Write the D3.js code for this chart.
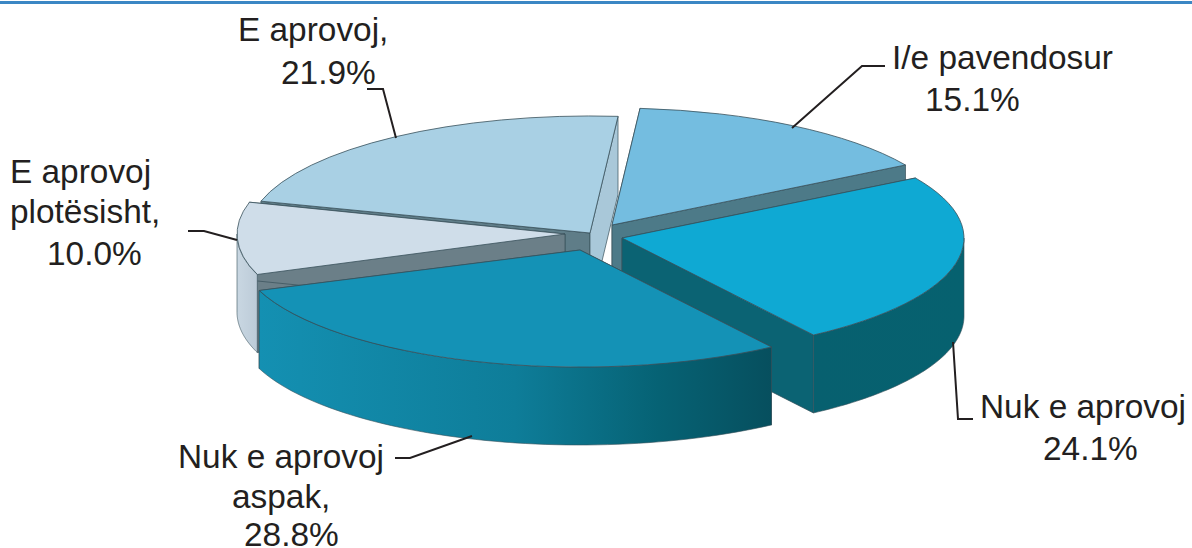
<!DOCTYPE html>
<html><head><meta charset="utf-8">
<script src="https://cdn.jsdelivr.net/npm/d3@7"></script>
<style>html,body{margin:0;padding:0;background:#fff}svg{display:block}</style>
</head><body>
<svg id="c" width="1192" height="548"></svg>
<script>
// ---- data ----
const categories = ["I/e pavendosur", "Nuk e aprovoj", "Nuk e aprovoj aspak", "E aprovoj plotësisht", "E aprovoj"];
const values = [15.1, 24.1, 28.8, 10.0, 21.9];
const topColours = ["#74bde0", "#0fa9d3", "#1492b6", "#cfdde9", "#a9d0e4"];
const startCutColours = ["#4d7a88", "#0b6373", "#0b6373", "#6b7f88", "#5f7d88"];
const endCutColours = ["#4d7a88", "#0b6373", "#0b6373", "#6b7f88", "#a9c8d9"];
const wallColours = [["#4d7a88", "#4d7a88"], ["#07606f", "#06616f"], ["#1490b2", "#064f5e"], ["#c9d7e2", "#bccbd8"], ["#a9c8d9", "#a9c8d9"]];
const labelLines = [["I/e pavendosur", "15.1%"], ["Nuk e aprovoj", "24.1%"], ["Nuk e aprovoj", "aspak,", "28.8%"], ["E aprovoj", "plotësisht,", "10.0%"], ["E aprovoj,", "21.9%"]];

// ---- layout ----
const apexes = [[612, 225], [622, 238], [580, 250], [565, 234], [590, 233]];
const radiiX = [342, 342, 342, 328, 342];
const RY = 117, DEPTH = 78, START = 4.7 * Math.PI / 180;
const labelPos = [[[892, 69], [925, 111]], [[980, 418], [1043, 460]], [[178, 468], [232, 508], [244, 546]], [[10, 183], [10, 223], [47, 265]], [[238, 41], [281, 84]]];
const leaders = [[[885, 66], [862, 66], [792, 128]], [[953, 342], [958, 419], [973, 419]], [[395, 458], [410, 458], [472, 436]], [[188, 231], [204, 231], [237, 240]], [[367, 89], [383, 89], [396, 138]]];
const paintOrder = [4, 0, 3, 1, 2];

const svg = d3.select("#c");
const defs = svg.append("defs");
svg.append("rect").attr("x", 0).attr("y", 1).attr("width", 1192).attr("height", 3).attr("fill", "#3b87c4");

const arcsData = d3.pie().sort(null).value(d => d).startAngle(START).endAngle(START + 2 * Math.PI)(values);
const unitArc = d3.arc().innerRadius(0).outerRadius(1);
const line = d3.line();
const STROKE = "#38505a";

paintOrder.forEach(i => {
  const a = arcsData[i], [ax, ay] = apexes[i], rx = radiiX[i];
  const px = t => ax + rx * Math.sin(t), py = t => ay - RY * Math.cos(t);
  const g = svg.append("g").attr("class", "slice");

  // cut faces
  [[a.startAngle, startCutColours[i]], [a.endAngle, endCutColours[i]]].forEach(([t, c]) => {
    g.append("path")
      .attr("d", line([[ax, ay], [px(t), py(t)], [px(t), py(t) + DEPTH], [ax, ay + DEPTH]]) + "Z")
      .attr("fill", c).attr("stroke", STROKE).attr("stroke-width", 0.7);
  });

  // outer wall on the visible front half
  const lo = Math.max(a.startAngle, Math.PI / 2), hi = Math.min(a.endAngle, 3 * Math.PI / 2);
  if (hi > lo) {
    const ts = d3.range(0, 61).map(k => lo + (hi - lo) * k / 60);
    const gid = "wall" + i;
    const xs = ts.map(px);
    const gr = defs.append("linearGradient").attr("id", gid).attr("gradientUnits", "userSpaceOnUse")
      .attr("x1", d3.min(xs)).attr("x2", d3.max(xs)).attr("y1", 0).attr("y2", 0);
    gr.append("stop").attr("offset", 0).attr("stop-color", wallColours[i][0]);
    if (i === 2) {
      gr.append("stop").attr("offset", 0.5).attr("stop-color", "#0e7d99");
      gr.append("stop").attr("offset", 0.78).attr("stop-color", "#066274");
    }
    gr.append("stop").attr("offset", 1).attr("stop-color", wallColours[i][1]);
    const top = ts.map(t => [px(t), py(t)]);
    const bottom = ts.map(t => [px(t), py(t) + DEPTH]).reverse();
    g.append("path").attr("d", line(top.concat(bottom)) + "Z")
      .attr("fill", `url(#${gid})`).attr("stroke", STROKE).attr("stroke-width", 0.6);
  }

  // top surface
  g.append("path")
    .attr("d", unitArc({startAngle: a.startAngle, endAngle: a.endAngle}))
    .attr("transform", `translate(${ax},${ay}) scale(${rx},${RY})`)
    .attr("fill", topColours[i]).attr("stroke", STROKE)
    .attr("stroke-width", 0.8).attr("vector-effect", "non-scaling-stroke");
});

// leaders
svg.append("g").selectAll("path").data(leaders).join("path")
  .attr("d", d => line(d)).attr("fill", "none").attr("stroke", "#231f20").attr("stroke-width", 2);

// labels
labelLines.forEach((ls, i) => {
  ls.forEach((s, j) => {
    svg.append("text").attr("x", labelPos[i][j][0]).attr("y", labelPos[i][j][1])
      .attr("font-family", "'Liberation Sans', Arial, sans-serif").attr("font-size", 33.4)
      .attr("fill", "#231f20").text(s);
  });
});
</script>
</body></html>
